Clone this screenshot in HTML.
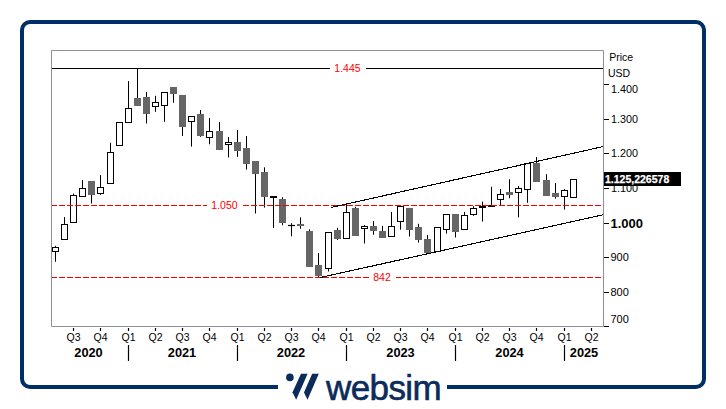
<!DOCTYPE html>
<html><head><meta charset="utf-8">
<style>
html,body{margin:0;padding:0;background:#fff;}
body{width:726px;height:409px;position:relative;overflow:hidden;font-family:"Liberation Sans",sans-serif;}
.frame{position:absolute;left:20px;top:20px;width:678px;height:361px;border:4px solid #002e66;border-radius:10px;}
.gap{position:absolute;left:278px;top:380px;width:169px;height:14px;background:#fff;}
svg{position:absolute;left:0;top:0;}
.logo{position:absolute;left:0;top:0;}
.wordmark{position:absolute;left:326px;top:363px;font-size:35px;color:#0b2b5b;line-height:50px;white-space:nowrap;-webkit-text-stroke:0.6px #0b2b5b;letter-spacing:-0.6px;}
</style></head>
<body>
<div class="frame"></div>
<div class="gap"></div>
<svg width="726" height="409" viewBox="0 0 726 409" style="font-family:'Liberation Sans',sans-serif">
<!-- plot border -->
<path d="M51.5 50.5H603.5V326.5H51.5Z" fill="none" stroke="#8e8ea0" stroke-width="1"/>
<path d="M55.5 245.8V261.8 M64.5 217V239.5 M73.5 193.5V222.5 M82.5 180.1V196.5 M91.5 181.2V203.5 M100.5 175.1V194.9 M110.5 142.8V183.9 M119.5 122.3V145.6 M128.5 81.1V122.5 M137.5 68.5V105.5 M146.5 91.9V123.5 M155.5 95.8V111.8 M164.5 92.5V121.8 M173.5 87.2V102.8 M182.5 95V135.9 M191.5 116.3V146.6 M200.5 110V136.8 M209.5 117.9V144.3 M219.5 122.1V149.7 M228.5 137V157.5 M237.5 129.9V156.9 M246.5 136V169.6 M255.5 161.2V213.5 M264.5 167.3V207.6 M273.5 196.3V227.9 M282.5 197.2V225.2 M291.5 223.2V236.3 M300.5 217.3V228.7 M309.5 229.3V267 M318.5 253V277 M328.5 232.2V271.5 M337.5 227.8V240 M346.5 204.6V238.5 M355.5 206.8V235.6 M364.5 225V243.5 M373.5 221.1V234.8 M382.5 225.9V237.5 M391.5 211.9V236.5 M400.5 205.7V229.7 M409.5 207.9V236.5 M418.5 223.8V242.6 M427.5 235V252.5 M437.5 227.1V251.5 M446.5 214.4V233.6 M455.5 214.1V237.5 M464.5 211.9V229.5 M473.5 206.2V215.8 M482.5 201.6V221.6 M491.5 186.8V207 M500.5 189.1V205 M509.5 179.2V198.3 M518.5 186V217.4 M527.5 163V202.8 M536.5 157V181.6 M546.5 174.2V195.7 M555.5 183V198.7 M564.5 189.1V209.6 M573.5 179.3V197.5" stroke="#000" stroke-width="1" fill="none"/>
<rect x="52.5" y="247.5" width="6" height="4" fill="#fff" stroke="#000"/>
<rect x="61.5" y="224.5" width="6" height="15" fill="#fff" stroke="#000"/>
<rect x="70.5" y="195.5" width="6" height="27" fill="#fff" stroke="#000"/>
<rect x="79.5" y="188.5" width="6" height="8" fill="#fff" stroke="#000"/>
<rect x="88.5" y="181.5" width="6" height="13" fill="#666" stroke="#666"/>
<rect x="97.5" y="187.5" width="6" height="6" fill="#fff" stroke="#000"/>
<rect x="107.5" y="152.5" width="6" height="31" fill="#fff" stroke="#000"/>
<rect x="116.5" y="122.5" width="6" height="23" fill="#fff" stroke="#000"/>
<rect x="125.5" y="108.5" width="6" height="14" fill="#fff" stroke="#000"/>
<rect x="134.5" y="98.5" width="6" height="7" fill="#666" stroke="#666"/>
<rect x="143.5" y="97.5" width="6" height="16" fill="#666" stroke="#666"/>
<rect x="152.5" y="102.5" width="6" height="4" fill="#fff" stroke="#000"/>
<rect x="161.5" y="92.5" width="6" height="13" fill="#fff" stroke="#000"/>
<rect x="170.5" y="87.5" width="6" height="6" fill="#666" stroke="#666"/>
<rect x="179.5" y="95.5" width="6" height="31" fill="#666" stroke="#666"/>
<rect x="188.5" y="116.5" width="6" height="5" fill="#fff" stroke="#000"/>
<rect x="197.5" y="114.5" width="6" height="21" fill="#666" stroke="#666"/>
<rect x="206.5" y="131.5" width="6" height="6" fill="#fff" stroke="#000"/>
<rect x="216.5" y="131.5" width="6" height="18" fill="#666" stroke="#666"/>
<rect x="225.5" y="142.5" width="6" height="2" fill="#fff" stroke="#000"/>
<rect x="234.5" y="142.5" width="6" height="8" fill="#666" stroke="#666"/>
<rect x="243.5" y="148.5" width="6" height="15" fill="#666" stroke="#666"/>
<rect x="252.5" y="161.5" width="6" height="12" fill="#666" stroke="#666"/>
<rect x="261.5" y="172.5" width="6" height="24" fill="#666" stroke="#666"/>
<rect x="270.5" y="196.5" width="6" height="1" fill="#fff" stroke="#000"/>
<rect x="279.5" y="199.5" width="6" height="23" fill="#666" stroke="#666"/>
<path d="M288 225.5H295" stroke="#000" stroke-width="1.2"/>
<rect x="297.5" y="224.5" width="6" height="1" fill="#666" stroke="#666"/>
<rect x="306.5" y="231.5" width="6" height="35" fill="#666" stroke="#666"/>
<rect x="315.5" y="265.5" width="6" height="10" fill="#666" stroke="#666"/>
<rect x="325.5" y="232.5" width="6" height="36" fill="#fff" stroke="#000"/>
<rect x="334.5" y="230.5" width="6" height="8" fill="#666" stroke="#666"/>
<rect x="343.5" y="212.5" width="6" height="26" fill="#fff" stroke="#000"/>
<rect x="352.5" y="208.5" width="6" height="27" fill="#666" stroke="#666"/>
<rect x="361.5" y="226.5" width="6" height="2" fill="#fff" stroke="#000"/>
<rect x="370.5" y="226.5" width="6" height="4" fill="#666" stroke="#666"/>
<rect x="379.5" y="231.5" width="6" height="6" fill="#666" stroke="#666"/>
<rect x="388.5" y="226.5" width="6" height="10" fill="#fff" stroke="#000"/>
<rect x="397.5" y="206.5" width="6" height="15" fill="#fff" stroke="#000"/>
<rect x="406.5" y="208.5" width="6" height="21" fill="#666" stroke="#666"/>
<rect x="415.5" y="227.5" width="6" height="12" fill="#666" stroke="#666"/>
<rect x="424.5" y="239.5" width="6" height="13" fill="#666" stroke="#666"/>
<rect x="434.5" y="227.5" width="6" height="24" fill="#fff" stroke="#000"/>
<rect x="443.5" y="214.5" width="6" height="15" fill="#fff" stroke="#000"/>
<rect x="452.5" y="214.5" width="6" height="17" fill="#666" stroke="#666"/>
<rect x="461.5" y="215.5" width="6" height="14" fill="#fff" stroke="#000"/>
<rect x="470.5" y="208.5" width="6" height="6" fill="#fff" stroke="#000"/>
<rect x="479.5" y="206.5" width="6" height="1" fill="#fff" stroke="#000"/>
<rect x="488.5" y="205.5" width="6" height="1" fill="#fff" stroke="#000"/>
<rect x="497.5" y="194.5" width="6" height="5" fill="#fff" stroke="#000"/>
<rect x="506.5" y="192.5" width="6" height="2" fill="#666" stroke="#666"/>
<rect x="515.5" y="188.5" width="6" height="4" fill="#fff" stroke="#000"/>
<rect x="524.5" y="163.5" width="6" height="26" fill="#fff" stroke="#000"/>
<rect x="533.5" y="163.5" width="6" height="18" fill="#666" stroke="#666"/>
<rect x="543.5" y="180.5" width="6" height="15" fill="#666" stroke="#666"/>
<rect x="552.5" y="193.5" width="6" height="3" fill="#666" stroke="#666"/>
<rect x="561.5" y="190.5" width="6" height="6" fill="#fff" stroke="#000"/>
<rect x="570.5" y="179.5" width="6" height="18" fill="#fff" stroke="#000"/>
<!-- 1.445 line -->
<path d="M52 68.5H330M366 68.5H603" stroke="#000" stroke-width="1.2"/>
<text x="347.5" y="71.6" font-size="10.5" fill="#ff0000" text-anchor="middle">1.445</text>
<path d="M52 205.5H57 M59 205.5H65 M67 205.5H73 M75 205.5H81 M83 205.5H89 M91 205.5H97 M99 205.5H105 M107 205.5H113 M115 205.5H121 M123 205.5H129 M131 205.5H137 M139 205.5H145 M147 205.5H153 M155 205.5H161 M163 205.5H169 M171 205.5H177 M179 205.5H185 M187 205.5H193 M195 205.5H201 M203 205.5H207 M243 205.5H249 M251 205.5H257 M259 205.5H265 M267 205.5H273 M275 205.5H281 M283 205.5H289 M291 205.5H297 M299 205.5H305 M307 205.5H313 M315 205.5H321 M323 205.5H329 M331 205.5H337 M339 205.5H345 M347 205.5H353 M355 205.5H361 M363 205.5H369 M371 205.5H377 M379 205.5H385 M387 205.5H393 M395 205.5H401 M403 205.5H409 M411 205.5H417 M419 205.5H425 M427 205.5H433 M435 205.5H441 M443 205.5H449 M451 205.5H457 M459 205.5H465 M467 205.5H473 M475 205.5H481 M483 205.5H489 M491 205.5H497 M499 205.5H505 M507 205.5H513 M515 205.5H521 M523 205.5H529 M531 205.5H537 M539 205.5H545 M547 205.5H553 M555 205.5H561 M563 205.5H569 M571 205.5H577 M579 205.5H585 M587 205.5H593 M595 205.5H601" stroke="#ff0000" stroke-width="1.1" fill="none"/>
<text x="224.5" y="208.6" font-size="10.5" fill="#ff0000" text-anchor="middle">1.050</text>
<path d="M52 277.5H57 M59 277.5H65 M67 277.5H73 M75 277.5H81 M83 277.5H89 M91 277.5H97 M99 277.5H105 M107 277.5H113 M115 277.5H121 M123 277.5H129 M131 277.5H137 M139 277.5H145 M147 277.5H153 M155 277.5H161 M163 277.5H169 M171 277.5H177 M179 277.5H185 M187 277.5H193 M195 277.5H201 M203 277.5H209 M211 277.5H217 M219 277.5H225 M227 277.5H233 M235 277.5H241 M243 277.5H249 M251 277.5H257 M259 277.5H265 M267 277.5H273 M275 277.5H281 M283 277.5H289 M291 277.5H297 M299 277.5H305 M307 277.5H313 M315 277.5H321 M323 277.5H329 M331 277.5H337 M339 277.5H345 M347 277.5H353 M355 277.5H361 M363 277.5H369 M396 277.5H401 M403 277.5H409 M411 277.5H417 M419 277.5H425 M427 277.5H433 M435 277.5H441 M443 277.5H449 M451 277.5H457 M459 277.5H465 M467 277.5H473 M475 277.5H481 M483 277.5H489 M491 277.5H497 M499 277.5H505 M507 277.5H513 M515 277.5H521 M523 277.5H529 M531 277.5H537 M539 277.5H545 M547 277.5H553 M555 277.5H561 M563 277.5H569 M571 277.5H577 M579 277.5H585 M587 277.5H593 M595 277.5H601" stroke="#ff0000" stroke-width="1.1" fill="none"/>
<text x="382" y="280.9" font-size="10.5" fill="#ff0000" text-anchor="middle">842</text>
<!-- trend lines -->
<path d="M331 207.5L603 146.6M320 277.6L603 214.8" stroke="#000" stroke-width="1.1" fill="none" shape-rendering="crispEdges"/>
<!-- y axis ticks -->
<path d="M604 84.5H609M604 119.5H609M604 153.5H609M604 188.5H609M604 223.5H609M604 257.5H609M604 292.5H609M604 326.5H609" stroke="#000" stroke-width="1"/>
<g font-size="11" fill="#000">
<text x="609.2" y="60.5" font-size="10.5">Price</text>
<text x="608" y="76.5" font-size="10.5">USD</text>
<text x="611.1" y="92.8" font-size="10.8">1.400</text>
<text x="611.1" y="122.7" font-size="10.8">1.300</text>
<text x="611.1" y="157" font-size="10.8">1.200</text>
<text x="611.1" y="192" font-size="10.8">1.100</text>
<text x="610.5" y="261.3">900</text>
<text x="610.5" y="296.3">800</text>
<text x="610.5" y="323.3">700</text>
</g>
<text x="610.5" y="227.9" font-size="13" font-weight="bold" fill="#000">1.000</text>
<!-- price box -->
<rect x="604" y="172" width="77" height="14" fill="#000"/>
<text x="605" y="182.5" font-size="10.5" font-weight="bold" fill="#fff" stroke="#fff" stroke-width="0.25">1.125,226578</text>
<!-- x axis ticks -->
<path d="M73.5 328V331M100.5 328V331M128.5 328V331M155.5 328V331M182.5 328V331M209.5 328V331M237.5 328V331M264.5 328V331M291.5 328V331M318.5 328V331M346.5 328V331M373.5 328V331M400.5 328V331M427.5 328V331M455.5 328V331M482.5 328V331M509.5 328V331M536.5 328V331M564.5 328V331M591.5 328V331" stroke="#000" stroke-width="1.2"/>
<g font-size="10.5" fill="#000" text-anchor="middle">
<text x="73.5" y="340.5">Q3</text><text x="100.5" y="340.5">Q4</text>
<text x="128.5" y="340.5">Q1</text><text x="155.5" y="340.5">Q2</text><text x="182.5" y="340.5">Q3</text><text x="209.5" y="340.5">Q4</text>
<text x="237.5" y="340.5">Q1</text><text x="264.5" y="340.5">Q2</text><text x="291.5" y="340.5">Q3</text><text x="318.5" y="340.5">Q4</text>
<text x="346.5" y="340.5">Q1</text><text x="373.5" y="340.5">Q2</text><text x="400.5" y="340.5">Q3</text><text x="427.5" y="340.5">Q4</text>
<text x="455.5" y="340.5">Q1</text><text x="482.5" y="340.5">Q2</text><text x="509.5" y="340.5">Q3</text><text x="536.5" y="340.5">Q4</text>
<text x="564.5" y="340.5">Q1</text><text x="591.5" y="340.5">Q2</text>
</g>
<path d="M128.5 345V361M237.5 345V361M346.5 345V361M455.5 345V361M564.5 345V361" stroke="#000" stroke-width="1.2"/>
<g font-size="12.8" font-weight="bold" fill="#000" text-anchor="middle">
<text x="88.5" y="357">2020</text><text x="182" y="357">2021</text><text x="291" y="357">2022</text>
<text x="400.5" y="357">2023</text><text x="509.5" y="357">2024</text><text x="584" y="357">2025</text>
</g>
<!-- logo mark -->
<g fill="#0b2b5b">
<circle cx="289.9" cy="377.4" r="3.8"/>
<path d="M301 373.8H307.6L296.2 399.8L292.5 392.3Z"/>
<path d="M312.2 373.8H318.8L307.5 399.8L304 392.4Z"/>
</g>
</svg>
<div class="wordmark">websim</div>
</body></html>
